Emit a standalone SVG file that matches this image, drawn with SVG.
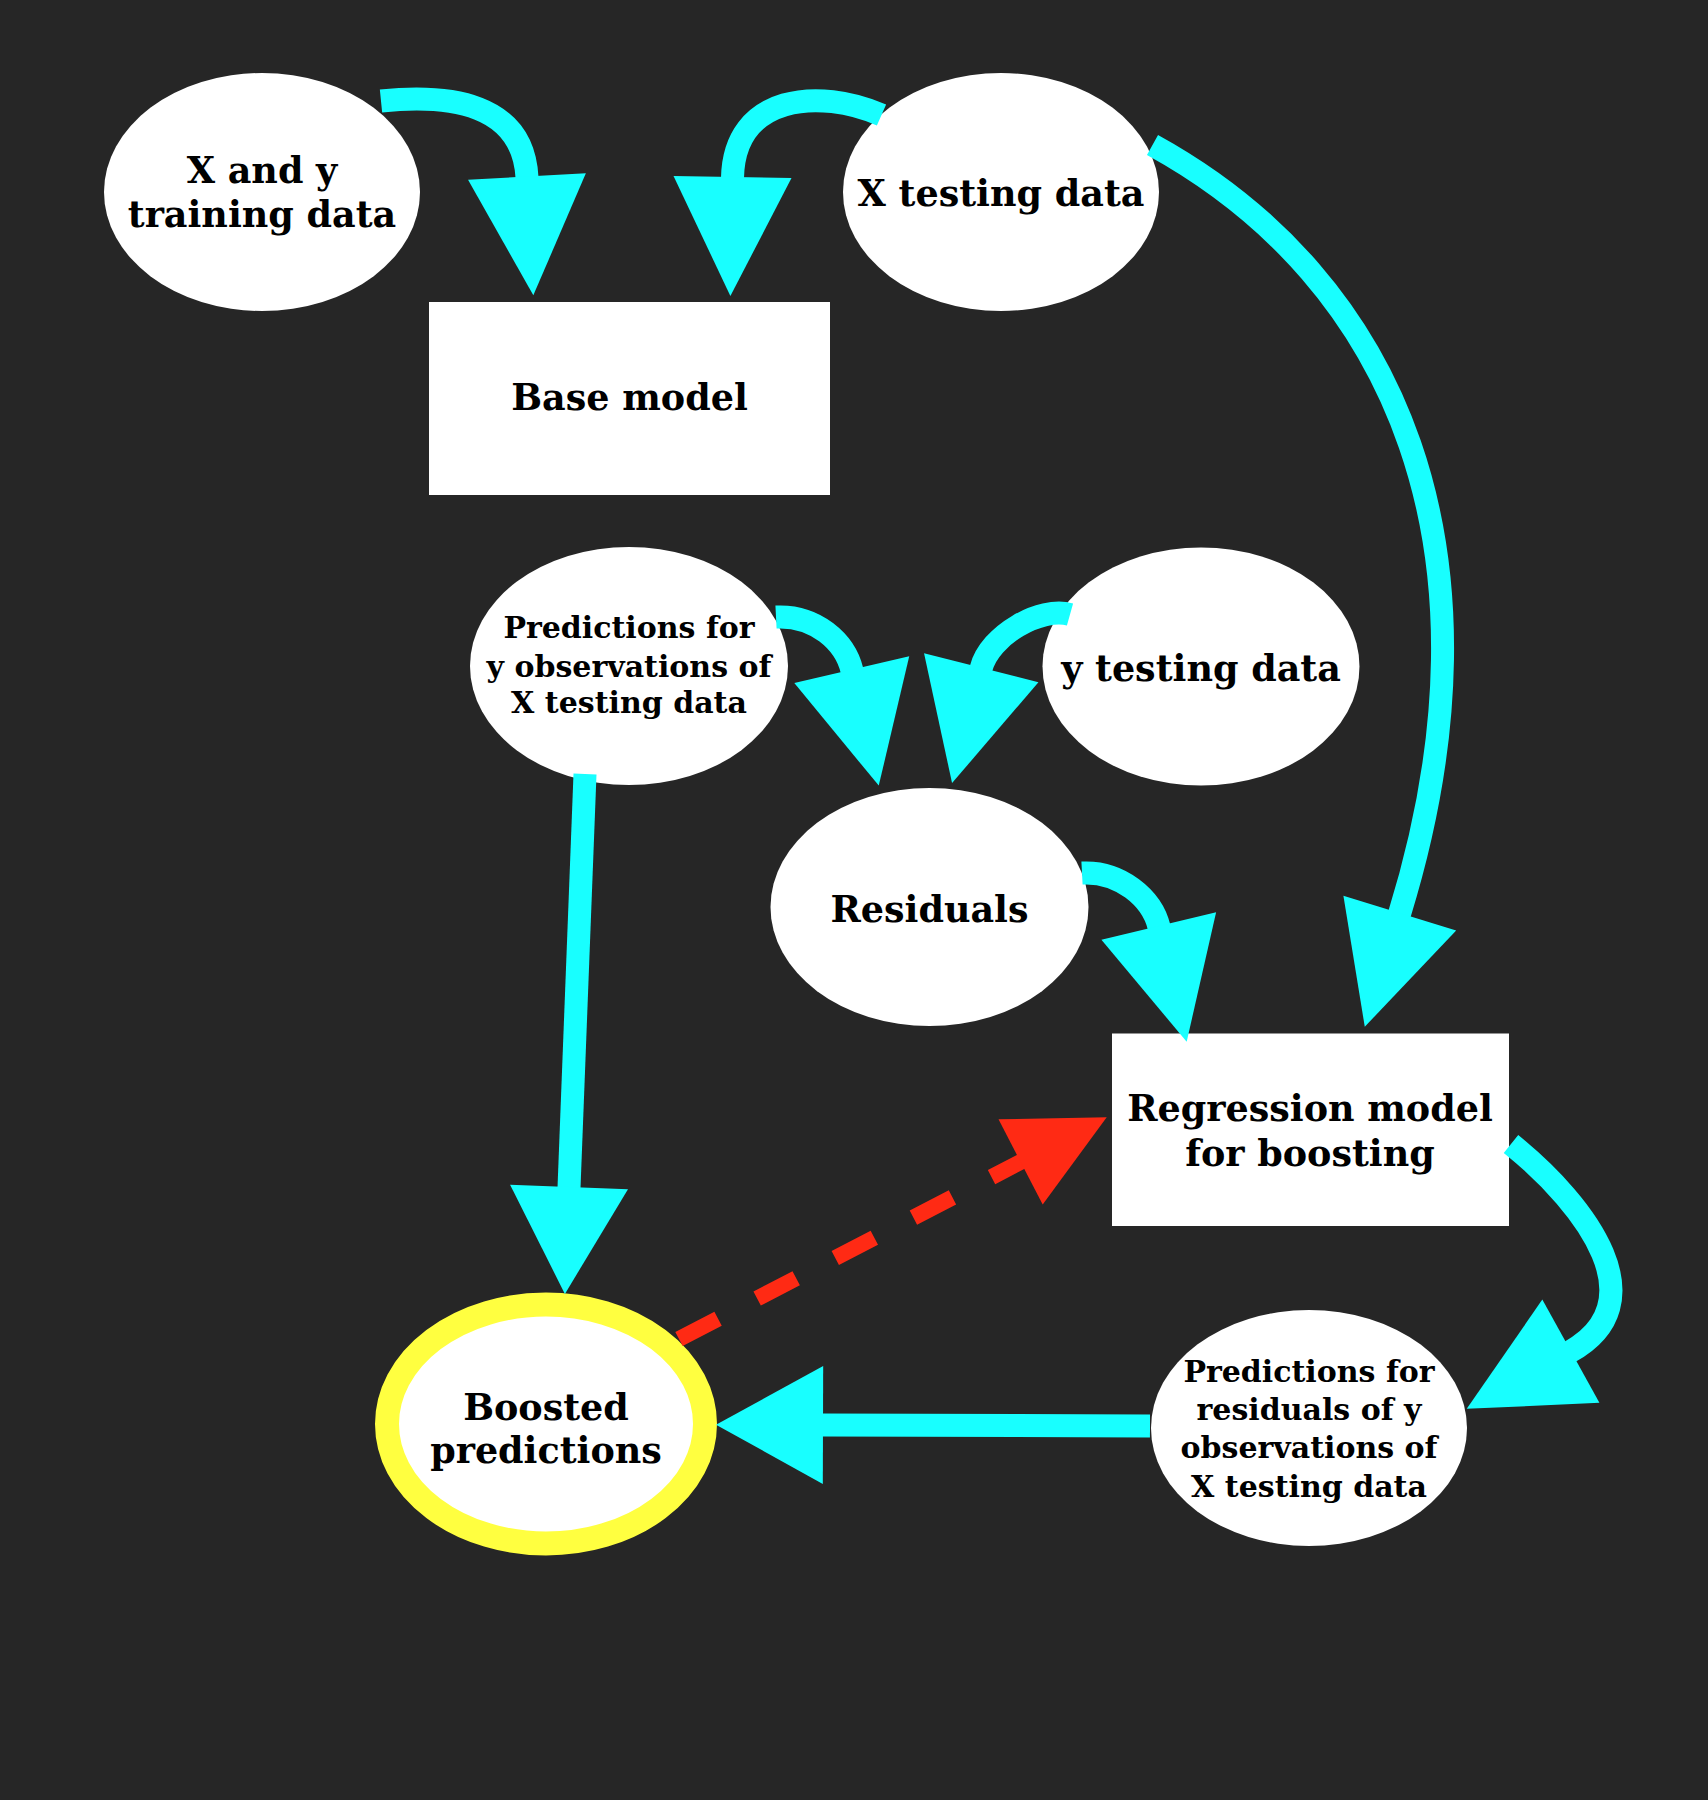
<svg xmlns="http://www.w3.org/2000/svg" width="1708" height="1800" viewBox="0 0 1708 1800">
<style>
.bg{fill:#262626}
.node ellipse,.node rect{fill:#ffffff}
.boost ellipse{stroke:#ffff40;stroke-width:24}
.t{font-family:"DejaVu Serif","Liberation Serif",serif;font-weight:bold;fill:#000;text-anchor:middle}
.big{font-size:36.5px}
.small{font-size:30px}
.e{fill:none;stroke:#18ffff;stroke-width:23;stroke-linecap:butt}
.red{fill:none;stroke:#ff2a14;stroke-width:16;stroke-dasharray:44 44}
</style>
<defs>
<marker id="ah" markerUnits="userSpaceOnUse" viewBox="-2 -60 122 120" markerWidth="122" markerHeight="120" refX="0" refY="0" orient="auto" overflow="visible">
<path d="M-1,-59 L118,0 L-1,59 Z" fill="#18ffff"/>
</marker>
<marker id="ahs" markerUnits="userSpaceOnUse" viewBox="-2 -60 110 120" markerWidth="110" markerHeight="120" refX="0" refY="0" orient="auto" overflow="visible">
<path d="M-1,-59 L106,0 L-1,59 Z" fill="#18ffff"/>
</marker>
<marker id="ahr" markerUnits="userSpaceOnUse" viewBox="-2 -50 100 100" markerWidth="100" markerHeight="100" refX="0" refY="0" orient="auto" overflow="visible">
<path d="M-1,-48 L96,0 L-1,48 Z" fill="#ff2a14"/>
</marker>
</defs>
<rect class="bg" x="0" y="0" width="1708" height="1800"/>

<g id="nodes">
<g id="xy_train" class="node">
<ellipse cx="262" cy="192" rx="158" ry="119"/>
<text class="t big" x="262" y="183">X and y</text>
<text class="t big" x="262" y="227">training data</text>
</g>
<g id="x_test" class="node">
<ellipse cx="1001" cy="192" rx="158" ry="119"/>
<text class="t big" x="1001" y="206">X testing data</text>
</g>
<g id="base_model" class="node">
<rect x="429" y="302" width="401" height="193"/>
<text class="t big" x="629.5" y="410">Base model</text>
</g>
<g id="pred_y" class="node">
<ellipse cx="629" cy="666" rx="159" ry="119"/>
<text class="t small" x="629" y="638">Predictions for</text>
<text class="t small" x="629" y="677">y observations of</text>
<text class="t small" x="629" y="713">X testing data</text>
</g>
<g id="y_test" class="node">
<ellipse cx="1201" cy="666.5" rx="158.5" ry="119"/>
<text class="t big" x="1201" y="681">y testing data</text>
</g>
<g id="residuals" class="node">
<ellipse cx="929.5" cy="907" rx="159" ry="119"/>
<text class="t big" x="929.5" y="922">Residuals</text>
</g>
<g id="regression" class="node">
<rect x="1112" y="1033.5" width="397" height="192.5"/>
<text class="t big" x="1310" y="1120.5">Regression model</text>
<text class="t big" x="1310" y="1166">for boosting</text>
</g>
<g id="pred_res" class="node">
<ellipse cx="1309" cy="1428" rx="158" ry="118"/>
<text class="t small" x="1309" y="1382">Predictions for</text>
<text class="t small" x="1309" y="1420">residuals of y</text>
<text class="t small" x="1309" y="1458">observations of</text>
<text class="t small" x="1309" y="1497">X testing data</text>
</g>
<g id="boosted" class="node boost">
<ellipse cx="546" cy="1424" rx="159" ry="119.5"/>
<text class="t big" x="546" y="1420">Boosted</text>
<text class="t big" x="546" y="1463">predictions</text>
</g>
</g>

<g id="connectors">
<path class="e" d="M381,101 C450,94 523,103 527,177.5" marker-end="url(#ah)"/>
<path class="e" d="M881.5,115 C820,88 734,94 732.5,178" marker-end="url(#ah)"/>
<path class="e" d="M776,617 C815,615 845.2,641.5 852,670.7" marker-end="url(#ah)"/>
<path class="e" d="M1070,614.5 C1041,606.4 989.6,634.7 981,668.7" marker-end="url(#ah)"/>
<path class="e" d="M1082,873 C1120,871 1152,898 1159,927" marker-end="url(#ah)"/>
<path class="e" d="M1152.5,145 C1398,280 1511,552 1399.5,914" marker-end="url(#ah)"/>
<path class="e" d="M1511,1144 C1588.8,1206.9 1657.7,1303.2 1570,1351.7" marker-end="url(#ah)"/>
<path class="e" d="M585,774 L569,1188" marker-end="url(#ahs)"/>
<path class="e" d="M1150,1426 L822,1425" marker-end="url(#ahs)"/>
<path class="red" d="M679,1339 L1021.5,1161.5" marker-end="url(#ahr)"/>
</g>
</svg>
